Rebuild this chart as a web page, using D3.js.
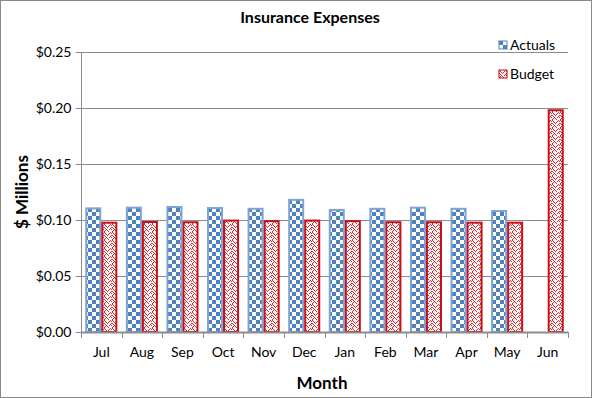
<!DOCTYPE html>
<html>
<head>
<meta charset="utf-8">
<script src="https://cdn.jsdelivr.net/npm/d3@7"></script>
<style>
  body { margin: 0; background: #fff; }
  text { font-family: Lato, "Open Sans", sans-serif; fill: #000; }
</style>
</head>
<body>
<div id="chart"></div>
<script>
// chart data
var months = ['Jul', 'Aug', 'Sep', 'Oct', 'Nov', 'Dec', 'Jan', 'Feb', 'Mar', 'Apr', 'May', 'Jun'];
var actuals = [0.1104, 0.111, 0.1116, 0.1107, 0.110, 0.118, 0.109, 0.110, 0.111, 0.110, 0.108, null];
var budget = [0.0976, 0.0982, 0.098, 0.0995, 0.099, 0.0995, 0.099, 0.098, 0.098, 0.0976, 0.0976, 0.198];
var yTicks = [0, 0.05, 0.10, 0.15, 0.20, 0.25];
var seriesNames = ['Actuals', 'Budget'];

var width = 592,
    height = 398;
var margin = {top: 52, right: 24, bottom: 66, left: 81};

var svg = d3.select('#chart').append('svg')
    .attr('width', width)
    .attr('height', height);

// fill patterns
var defs = svg.append('defs');
var checker = defs.append('pattern')
    .attr('id', 'checker')
    .attr('patternUnits', 'userSpaceOnUse')
    .attr('width', 8).attr('height', 8);
checker.append('rect').attr('width', 8).attr('height', 8).attr('fill', '#fff');
checker.append('rect').attr('width', 4).attr('height', 4).attr('fill', '#4f81bd');
checker.append('rect').attr('x', 4).attr('y', 4).attr('width', 4).attr('height', 4).attr('fill', '#4f81bd');

var zig = defs.append('pattern')
    .attr('id', 'zigzag')
    .attr('patternUnits', 'userSpaceOnUse')
    .attr('width', 8).attr('height', 8);
zig.append('rect').attr('width', 8).attr('height', 8).attr('fill', '#fff');
var zigRows = ['10000010', '01000101', '00101000', '10010001', '01000010', '00100101', '01010000', '10001000'];
zigRows.forEach(function(row, y) {
  row.split('').forEach(function(c, x) {
    if (c === '1') zig.append('rect').attr('x', x).attr('y', y).attr('width', 1).attr('height', 1).attr('fill', '#e0282c');
  });
});

// outer border
svg.append('rect')
    .attr('x', 0.5).attr('y', 0.5)
    .attr('width', width - 1).attr('height', height - 1)
    .attr('fill', 'none')
    .attr('stroke', '#888');

var x = d3.scaleBand()
    .domain(months)
    .range([margin.left, width - margin.right])
    .paddingInner(0.21)
    .paddingOuter(0.105);

var x1 = d3.scaleBand()
    .domain(seriesNames)
    .range([0, x.bandwidth()]);

var y = d3.scaleLinear()
    .domain([0, 0.25])
    .range([height - margin.bottom, margin.top]);

// gridlines
svg.append('g')
  .selectAll('line')
  .data(yTicks.slice(1))
  .enter().append('line')
    .attr('x1', margin.left)
    .attr('x2', width - margin.right)
    .attr('y1', function(d) { return Math.round(y(d)) + 0.5; })
    .attr('y2', function(d) { return Math.round(y(d)) + 0.5; })
    .style('stroke', '#8c8c8c')
    .style('stroke-width', '1px');

// bars
var rows = months.map(function(m, i) { return {month: m, a: actuals[i], b: budget[i]}; });

svg.append('g').selectAll('rect')
    .data(rows.filter(function(d) { return d.a != null; }))
    .enter().append('rect')
    .attr('x', function(d) { return x(d.month) + x1('Actuals') + 1; })
    .attr('y', function(d) { return y(d.a); })
    .attr('width', x1.bandwidth() - 2)
    .attr('height', function(d) { return y(0) - y(d.a); })
    .attr('fill', 'url(#checker)')
    .style('stroke', '#7fa3d4')
    .style('stroke-width', '2px');

svg.append('g').selectAll('rect')
    .data(rows)
    .enter().append('rect')
    .attr('x', function(d) { return x(d.month) + x1('Budget') + 1; })
    .attr('y', function(d) { return y(d.b); })
    .attr('width', x1.bandwidth() - 2)
    .attr('height', function(d) { return y(0) - y(d.b); })
    .attr('fill', 'url(#zigzag)')
    .style('stroke', '#c8101a')
    .style('stroke-width', '2px');

// axes
var yAxis = d3.axisLeft(y)
    .tickValues(yTicks)
    .tickSize(6)
    .tickFormat(function(d) { return '$' + d3.format('.2f')(d); });
var gy = svg.append('g')
    .attr('transform', 'translate(' + (margin.left + 0.5) + ',0)')
    .call(yAxis);
gy.selectAll('text').style('font-size', '14px').attr('x', -10);
gy.selectAll('line, path').style('stroke', '#8c8c8c');
gy.select('.domain').attr('d', 'M0,' + y(0.25) + 'V' + y(0));

var xAxis = d3.axisBottom(x).tickSize(0);
var gx = svg.append('g')
    .attr('transform', 'translate(0,' + (Math.round(y(0)) + 0.5) + ')')
    .call(xAxis);
gx.select('.domain').style('stroke', '#8c8c8c').style('stroke-width', '2px')
    .attr('d', 'M' + margin.left + ',0H' + (width - margin.right));
gx.selectAll('text').style('font-size', '14px').attr('dy', '1.55em');

// category separator ticks
svg.append('g').selectAll('line')
    .data(d3.range(months.length + 1))
    .enter().append('line')
    .attr('x1', function(i) { return Math.round(margin.left + i * x.step()) + 0.5; })
    .attr('x2', function(i) { return Math.round(margin.left + i * x.step()) + 0.5; })
    .attr('y1', y(0))
    .attr('y2', y(0) + 6)
    .style('stroke', '#8c8c8c');

// titles
svg.append('text')
    .attr('x', 310).attr('y', 23)
    .attr('text-anchor', 'middle')
    .style('font-size', '16px').style('font-weight', 'bold')
    .text('Insurance Expenses');

svg.append('text')
    .attr('x', 322).attr('y', 389)
    .attr('text-anchor', 'middle')
    .style('font-size', '17px').style('font-weight', 'bold')
    .text('Month');

svg.append('text')
    .attr('transform', 'translate(28,192) rotate(-90)')
    .attr('text-anchor', 'middle')
    .style('font-size', '17px').style('font-weight', 'bold')
    .text('$ Millions');

// legend
var legend = svg.append('g').attr('transform', 'translate(499,41)');
var fills = ['url(#checker)', 'url(#zigzag)'];
var strokes = ['#4f81bd', '#c00000'];
seriesNames.forEach(function(name, i) {
  var g = legend.append('g').attr('transform', 'translate(0,' + (i * 29) + ')');
  g.append('rect')
    .attr('width', 8).attr('height', 8)
    .attr('fill', fills[i])
    .style('stroke', strokes[i]).style('stroke-width', '1px');
  g.append('text')
    .attr('x', 11).attr('y', 9)
    .style('font-size', '14px')
    .text(name);
});
</script>
</body>
</html>
